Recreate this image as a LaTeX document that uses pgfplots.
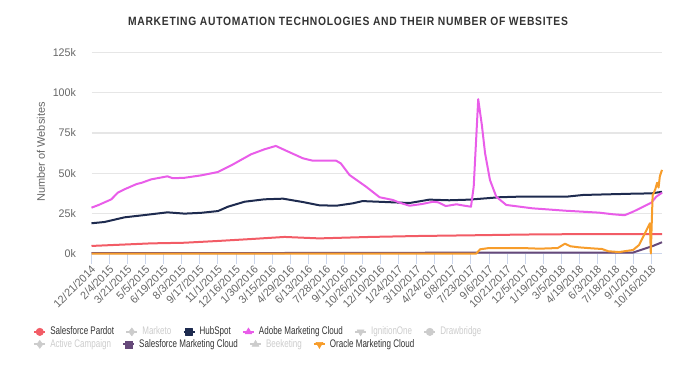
\documentclass[border=0pt]{standalone}
\usepackage{fontspec}
\setmainfont{Liberation Sans}
\newfontfamily\legfont{Liberation Sans}[FakeStretch=0.73]
\newfontfamily\tickfont{Liberation Sans}[FakeStretch=0.97]
\newfontfamily\titlefont{Liberation Sans}[FakeStretch=0.86,LetterSpace=6]
\usepackage{pgfplots}
\pgfplotsset{compat=1.18}
\definecolor{cpardot}{HTML}{F25C66}
\definecolor{chub}{HTML}{1E2B4F}
\definecolor{cadobe}{HTML}{E95DE9}
\definecolor{csfmc}{HTML}{66497A}
\definecolor{coracle}{HTML}{F79D2B}
\definecolor{chidden}{HTML}{CCCCCC}
\definecolor{cgrid}{HTML}{E6E6E6}
\definecolor{caxis}{HTML}{CCD6EB}
\definecolor{ctext}{HTML}{666666}
\definecolor{ctitle}{HTML}{333333}
\pgfplotsset{
  hclegend/.style={
    legend image code/.code={
      \draw[##1,mark=none] (0pt,0pt) -- (8.25pt,0pt);
      \draw[##1,solid,line width=0.4pt] plot coordinates {(4.125pt,0pt)};
    },
    legend style={draw=none, fill=none, inner sep=0pt,
      font=\legfont\fontsize{8.25}{10}\selectfont, text=ctitle,
      nodes={inner sep=0pt},
      /tikz/every even column/.append style={column sep=8.4pt},
      /tikz/every odd column/.append style={column sep=3pt}},
    legend cell align=left,
  },
}
\begin{document}
\begin{tikzpicture}
\path[use as bounding box] (0,0) rectangle (522pt,282pt);
\begin{axis}[
  at={(68.625pt,91.875pt)}, anchor=south west,
  scale only axis, width=427.875pt, height=150.75pt,
  xmin=0, xmax=31.57, ymin=0, ymax=125,
  axis lines*=left, axis line style={-},
  x axis line style={draw=caxis, line width=0.75pt},
  y axis line style={draw=none},
  ytick={0,25,50,75,100,125},
  yticklabels={0k,25k,50k,75k,100k,125k},
  ytick style={draw=none},
  xtick={0,...,31},
  xticklabels={12/21/2014,2/4/2015,3/21/2015,5/5/2015,6/19/2015,8/3/2015,9/17/2015,11/1/2015,12/16/2015,1/30/2016,3/15/2016,4/29/2016,6/13/2016,7/28/2016,9/11/2016,10/26/2016,12/10/2016,1/24/2017,3/10/2017,4/24/2017,6/8/2017,7/23/2017,9/6/2017,10/21/2017,12/5/2017,1/19/2018,3/5/2018,4/19/2018,6/3/2018,7/18/2018,9/1/2018,10/16/2018},
  xtick style={draw=caxis, line width=0.75pt},
  tick align=outside, major tick length=7.5pt,
  x tick label style={rotate=45, anchor=north east, font=\tickfont\fontsize{8.3}{10}\selectfont, text=ctext, inner sep=0pt, xshift=-1pt},
  y tick label style={font=\tickfont\fontsize{8.25}{10}\selectfont, text=ctext, inner sep=1pt, xshift=-3pt},
  ymajorgrids, grid style={draw=cgrid, line width=0.9pt},
  ylabel={Number of Websites},
  ylabel style={at={(axis description cs:-0.0885,0.505)}, anchor=center, font=\fontsize{8.25}{10}\selectfont, text=ctext},
  title={MARKETING AUTOMATION TECHNOLOGIES AND THEIR NUMBER OF WEBSITES},
  title style={at={(axis description cs:0.4496,1.117)}, anchor=center, font=\titlefont\bfseries\fontsize{9}{11}\selectfont, text=ctitle},
  clip=false,
  every axis plot/.append style={line width=1.5pt, line join=round},
  hclegend,
  legend columns=6,
  legend style={at={(axis description cs:-0.1025,-0.390)}, anchor=west},
]
% Salesforce Pardot
\addplot[cpardot, forget plot] coordinates {(0,4.7) (3.3,6.3) (5.15,6.7) (7.0,7.8) (8.83,9.0) (10.68,10.3) (12.6,9.4) (15.4,10.3) (18.15,10.9) (20.9,11.3) (24,11.8) (27.5,12.1) (31.57,12.1)};
% HubSpot
\addplot[chub, forget plot] coordinates {(0,18.8) (0.72,19.6) (1.83,22.5) (2.93,23.9) (4.2,25.6) (5.15,24.8) (6.07,25.3) (7.0,26.4) (7.55,29.1) (8.47,32.2) (9.57,33.7) (10.6,34.1) (11.7,32.0) (12.6,30.0) (13.54,29.7) (14.46,31.2) (15.0,32.6) (16.3,32.0) (17.6,31.4) (18.7,33.5) (19.8,33.1) (20.9,33.5) (22.6,35.0) (23.5,35.3) (26.25,35.3) (27.2,36.4) (29.97,37.2) (31.0,37.4) (31.57,38.4)};
% Adobe Marketing Cloud
\addplot[cadobe, forget plot] coordinates {(0,28.5) (0.4,30.2) (1.1,33.7) (1.45,37.8) (1.9,40.3) (2.5,43.2) (2.78,44.0) (3.3,46.1) (4.2,48.0) (4.5,46.8) (5.15,47.1) (6.07,48.6) (7.0,50.7) (7.73,54.8) (8.83,61.7) (9.57,64.8) (10.2,66.9) (10.68,64.4) (11.7,59.2) (12.25,57.7) (13.54,57.7) (13.8,56.0) (14.28,48.8) (15.2,41.5) (15.94,35.0) (16.67,33.3) (17.05,31.6) (17.6,29.7) (18.3,30.8) (18.9,32.2) (19.2,31.8) (19.6,29.5) (20.2,30.6) (20.6,29.8) (21.0,29.1) (21.15,41.6) (21.4,96.0) (21.6,80.0) (21.78,62.3) (22.05,45.7) (22.4,35.3) (22.95,30.2) (24.4,28.1) (26.25,26.6) (28.1,25.4) (28.85,24.4) (29.5,23.8) (29.97,26.0) (30.98,31.6) (31.25,35.3) (31.57,37.8)};
% Salesforce Marketing Cloud
\addplot[csfmc, forget plot] coordinates {(0,0.2) (10,0.3) (20,0.5) (28,0.5) (29.97,0.6) (31.07,4.7) (31.57,7.0)};
% Oracle Marketing Cloud
\addplot[coracle, forget plot] coordinates {(0,0) (21.3,0) (21.5,2.6) (22.0,3.4) (23.85,3.4) (24.8,3.0) (25.8,3.4) (26.2,6.1) (26.5,4.5) (27.0,3.8) (27.7,3.2) (28.25,2.8) (28.6,1.4) (29.2,0.9) (29.97,2.2) (30.3,5.3) (30.9,18.8) (30.95,0) (31.05,36.0) (31.2,40.0) (31.3,44.0) (31.38,41.0) (31.45,48.0) (31.57,52.0)};
% legend row 1
\addlegendimage{cpardot, line width=1.5pt, mark=*, mark size=2.8pt}
\addlegendentry{Salesforce Pardot}
\addlegendimage{chidden, line width=1.5pt, mark=diamond*, mark size=3pt}
\addlegendentry{\textcolor{chidden}{Marketo}}
\addlegendimage{chub, line width=1.5pt, mark=square*, mark size=2.6pt}
\addlegendentry{HubSpot}
\addlegendimage{cadobe, line width=1.5pt, mark=triangle*, mark size=3pt}
\addlegendentry{Adobe Marketing Cloud}
\addlegendimage{chidden, line width=1.5pt, mark=triangle*, mark size=3pt, mark options={rotate=180}}
\addlegendentry{\textcolor{chidden}{IgnitionOne}}
\addlegendimage{chidden, line width=1.5pt, mark=*, mark size=2.8pt}
\addlegendentry{\textcolor{chidden}{Drawbridge}}
\end{axis}
\begin{axis}[
  at={(68.625pt,91.875pt)}, anchor=south west,
  scale only axis, width=427.875pt, height=150.75pt,
  xmin=0, xmax=1, ymin=0, ymax=1, hide axis,
  hclegend,
  legend columns=4,
  legend style={at={(axis description cs:-0.1025,-0.452)}, anchor=west},
]
\addlegendimage{chidden, line width=1.5pt, mark=diamond*, mark size=3pt}
\addlegendentry{\textcolor{chidden}{Active Campaign}}
\addlegendimage{csfmc, line width=1.5pt, mark=square*, mark size=2.6pt}
\addlegendentry{Salesforce Marketing Cloud}
\addlegendimage{chidden, line width=1.5pt, mark=triangle*, mark size=3pt}
\addlegendentry{\textcolor{chidden}{Beeketing}}
\addlegendimage{coracle, line width=1.5pt, mark=triangle*, mark size=3pt, mark options={rotate=180}}
\addlegendentry{Oracle Marketing Cloud}
\end{axis}
\end{tikzpicture}
\end{document}
